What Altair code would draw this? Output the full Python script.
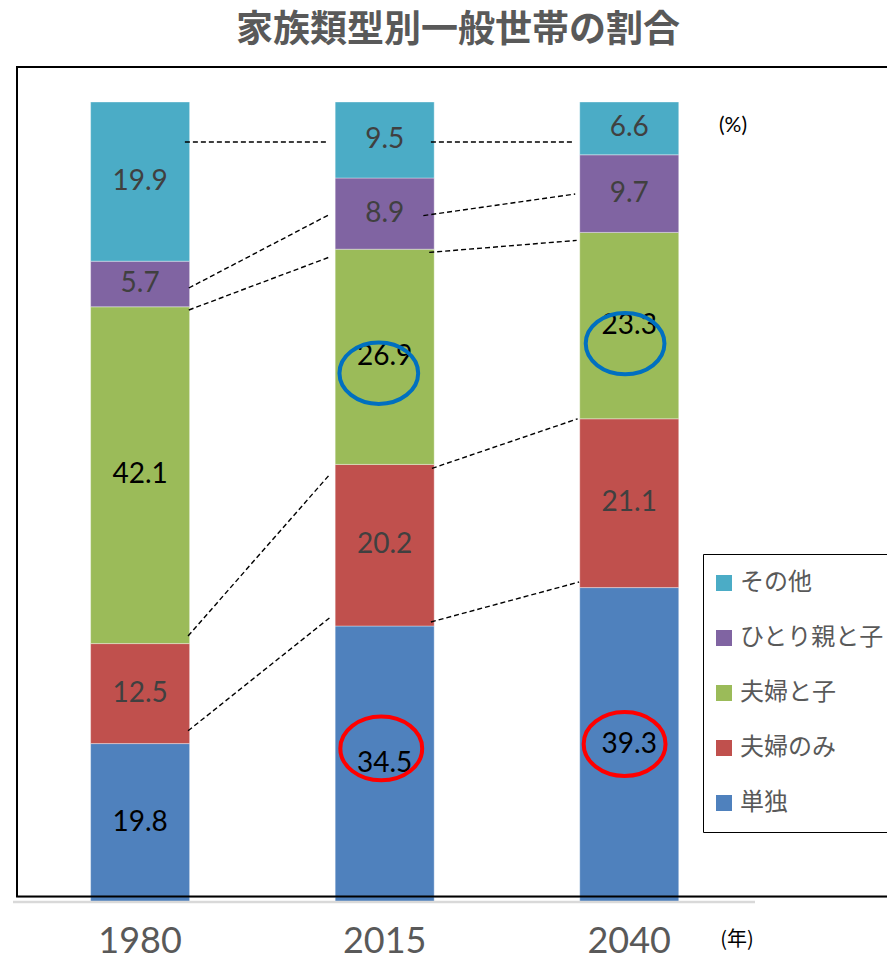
import altair as alt
import pandas as pd

# ---- data ----
years = ["1980", "2015", "2040"]
types_bottom_up = ["単独", "夫婦のみ", "夫婦と子", "ひとり親と子", "その他"]
tandoku = [19.8, 34.5, 39.3]
fufu_nomi = [12.5, 20.2, 21.1]
fufu_to_ko = [42.1, 26.9, 23.3]
hitorioya = [5.7, 8.9, 9.7]
sonota = [19.9, 9.5, 6.6]

legend_order = ["その他", "ひとり親と子", "夫婦と子", "夫婦のみ", "単独"]
legend_colors = ["#4BACC6", "#8064A2", "#9BBB59", "#C0504D", "#4F81BD"]
dark_label_types = ["夫婦と子", "単独"]

x_unit_text = "(年)"
y_unit_text = "(%)"
title_text = "家族類型別一般世帯の割合"

# hand-drawn dashed connector lines (x in bar-index units, y in %)
line_x_start = [0.183, 0.199, 0.199, 0.196, 0.196, 1.189, 1.158, 1.182, 1.193, 1.189]
line_x_end = [0.762, 0.778, 0.778, 0.774, 0.774, 1.772, 1.779, 1.785, 1.789, 1.795]
line_y_start = [95.0, 76.75, 74.0, 33.25, 21.4, 95.0, 85.8, 81.2, 54.2, 35.0]
line_y_end = [95.0, 86.0, 80.66, 53.4, 35.5, 95.0, 88.5, 82.7, 60.4, 40.0]

# highlight ellipses
blue_circle_x = [0.976, 1.983]
blue_circle_y = [66.1, 69.8]
red_circle_x = [0.986, 1.981]
red_circle_y = [19.2, 19.75]

series = [tandoku, fufu_nomi, fufu_to_ko, hitorioya, sonota]
rows = []
for i, yr in enumerate(years):
    for k, (t, vals) in enumerate(zip(types_bottom_up, series)):
        rows.append({"idx": i, "year": yr, "type": t, "k": k, "value": vals[i]})
df = pd.DataFrame(rows)
years_df = pd.DataFrame({"idx": list(range(len(years))), "year": years})

lines_df = pd.DataFrame({"lx1": line_x_start, "lx2": line_x_end,
                         "ly1": line_y_start, "ly2": line_y_end})
blue_df = pd.DataFrame({"cx": blue_circle_x, "cy": blue_circle_y})
red_df = pd.DataFrame({"cx": red_circle_x, "cy": red_circle_y})
one = pd.DataFrame({"a": [0]})

W, H = 870, 830
x_scale = alt.Scale(domain=[-0.483, 3.0335], nice=False, zero=False)
y_scale = alt.Scale(domain=[0.625, 104.375], nice=False, zero=False)

base = alt.Chart(df).transform_stack(
    stack="value", groupby=["idx"], as_=["y0", "y1"],
    sort=[alt.SortField("k", order="ascending")]
).transform_calculate(mid="(datum.y0 + datum.y1) / 2")

bars = base.mark_bar(size=99, stroke="white", strokeWidth=0.6, strokeOpacity=0.6).encode(
    x=alt.X("idx:Q", scale=x_scale, axis=None),
    y=alt.Y("y0:Q", scale=y_scale, axis=None),
    y2="y1:Q",
    color=alt.Color("type:N", scale=alt.Scale(domain=legend_order, range=legend_colors),
                    legend=alt.Legend(
                        title=None, orient="none", legendX=686, legendY=487,
                        fillColor="white", strokeColor="black", padding=17,
                        symbolType="square", symbolSize=256, symbolStrokeWidth=0,
                        symbolOffset=-8,
                        labelFont="Noto Sans CJK JP", labelFontSize=24,
                        labelColor="#595959", labelOffset=4, rowPadding=31,
                        labelLimit=300)),
)

labels = base.mark_text(font="Lato", fontSize=28, baseline="middle").encode(
    x=alt.X("idx:Q", scale=x_scale, axis=None),
    y=alt.Y("mid:Q", scale=y_scale, axis=None),
    text=alt.Text("value:Q", format=".1f"),
    color=alt.condition(
        alt.FieldOneOfPredicate(field="type", oneOf=dark_label_types),
        alt.value("black"), alt.value("#404040")),
)

year_labels = alt.Chart(years_df).mark_text(
    font="Lato", fontSize=36, color="#595959", baseline="middle"
).encode(
    x=alt.X("idx:Q", scale=x_scale, axis=None),
    y=alt.value(H + 45),
    text="year:N",
)

x_unit = alt.Chart(one).mark_text(
    text=x_unit_text, font="Noto Sans CJK JP", fontSize=20, color="black", baseline="middle"
).encode(x=alt.value(720), y=alt.value(H + 43))

y_unit = alt.Chart(one).mark_text(
    text=y_unit_text, font="Lato", fontSize=21, color="black", baseline="middle"
).encode(x=alt.value(716), y=alt.value(59))

dashes = alt.Chart(lines_df).mark_rule(color="black", strokeWidth=1.4, strokeDash=[5, 3]).encode(
    x=alt.X("lx1:Q", scale=x_scale, axis=None),
    x2="lx2:Q",
    y=alt.Y("ly1:Q", scale=y_scale, axis=None),
    y2="ly2:Q",
)

ellipse = "M -1 0 A 1 0.78 0 1 0 1 0 A 1 0.78 0 1 0 -1 0 Z"
blue_circles = alt.Chart(blue_df).mark_point(
    shape=ellipse, size=6200, filled=False, color="#0070C0", strokeWidth=4, opacity=1
).encode(
    x=alt.X("cx:Q", scale=x_scale, axis=None),
    y=alt.Y("cy:Q", scale=y_scale, axis=None),
)
red_circles = alt.Chart(red_df).mark_point(
    shape=ellipse, size=6700, filled=False, color="#FF0000", strokeWidth=4, opacity=1
).encode(
    x=alt.X("cx:Q", scale=x_scale, axis=None),
    y=alt.Y("cy:Q", scale=y_scale, axis=None),
)

base_line = alt.Chart(one).mark_rule(color="#D9D9D9", strokeWidth=2.5).encode(
    x=alt.value(-4), x2=alt.value(738),
    y=alt.YDatum(0, scale=y_scale, axis=None),
)

frame = alt.Chart(one).mark_rect(fillOpacity=0, stroke="black", strokeWidth=2).encode(
    x=alt.value(0), x2=alt.value(W + 30), y=alt.value(0), y2=alt.value(H - 0.5),
)

chart = alt.layer(
    bars, base_line, labels, dashes, blue_circles, red_circles, frame,
    year_labels, x_unit, y_unit
).properties(
    width=W, height=H,
    autosize=alt.AutoSizeParams(type="none"),
    padding={"left": 17, "top": 67, "right": 0, "bottom": 64},
    title=alt.TitleParams(
        text=title_text, font="Noto Sans CJK JP", fontSize=37,
        fontWeight="bold", color="#595959", anchor="middle", offset=16, dx=6),
).configure_view(strokeWidth=0).configure(background="white")

chart.save("out.html", embed_options={"renderer": "svg", "actions": False})
